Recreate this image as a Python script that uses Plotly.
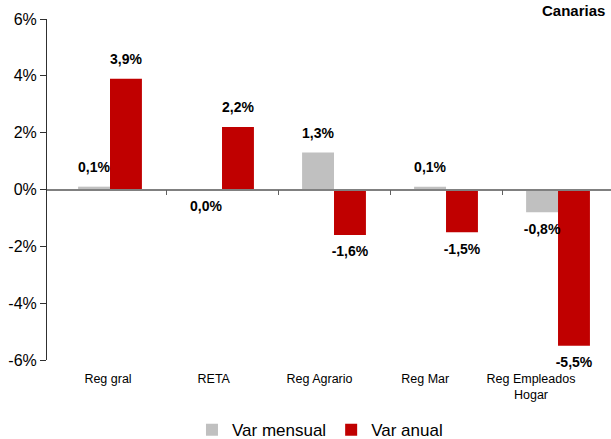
import plotly.graph_objects as go

categories = ["Reg gral", "RETA", "Reg Agrario", "Reg Mar", "Reg Empleados<br>Hogar"]
var_mensual = [0.1, -0.01, 1.3, 0.1, -0.8]
var_anual = [3.9, 2.2, -1.6, -1.5, -5.5]
y_ticks = [-6, -4, -2, 0, 2, 4, 6]
y_ticktext = ["-6%", "-4%", "-2%", "0%", "2%", "4%", "6%"]
title_text = "Canarias"

FONT = "Liberation Sans, Arial, sans-serif"

def fmt(v):
    s = f"{abs(v):.1f}".replace(".", ",") + "%"
    return ("-" + s) if v < 0 and round(abs(v), 1) != 0 else s

def pos(vals):
    return ["top center" if v > 0 else "bottom center" for v in vals]

fig = go.Figure()
fig.add_trace(go.Bar(
    x=categories, y=var_mensual, name="Var mensual",
    marker=dict(color="#C0C0C0", line=dict(width=0)),
))
fig.add_trace(go.Bar(
    x=categories, y=var_anual, name="Var anual",
    marker=dict(color="#C00000", line=dict(width=0)),
))
for vals in (var_mensual, var_anual):
    fig.add_trace(go.Scatter(
        x=categories, y=vals, mode="markers+text",
        marker=dict(size=16, opacity=0),
        text=[fmt(v) for v in vals], textposition=pos(vals),
        textfont=dict(family=FONT, size=14, color="#000000", weight="bold"),
        showlegend=False, hoverinfo="skip", cliponaxis=False,
    ))
# helper invisible trace for the zero-line axis with tick marks
fig.add_trace(go.Scatter(x=[0], y=[0], xaxis="x2", mode="markers",
                         marker=dict(opacity=0), showlegend=False, hoverinfo="skip"))
# helper invisible trace for the category label axis
fig.add_trace(go.Scatter(x=categories, y=var_mensual, xaxis="x3", mode="none",
                         showlegend=False, hoverinfo="skip"))

xr = [-0.5625, 4.473]
fig.update_layout(
    width=611, height=439,
    margin=dict(l=47, r=0, t=19, b=79, autoexpand=False),
    paper_bgcolor="white", plot_bgcolor="white",
    barmode="group", bargap=0.43, bargroupgap=0,
    scattermode="group", scattergap=0.43,
    font=dict(family=FONT, color="#000000"),
    showlegend=True,
    legend=dict(orientation="h", x=0.484, xanchor="center", y=-0.206, yanchor="middle",
                font=dict(family=FONT, size=17, color="#000000"),
                itemwidth=30, traceorder="normal"),
    xaxis=dict(type="category", range=xr, showline=False, ticks="",
               showticklabels=False, showgrid=False, zeroline=False),
    xaxis2=dict(overlaying="x", anchor="free", position=0.5, range=[xr[0], xr[1]],
                showline=True, linecolor="#808080", linewidth=1.5,
                ticks="outside", ticklen=5, tickcolor="#606060",
                tickvals=[0.5, 1.5, 2.5, 3.5], showticklabels=False,
                showgrid=False, zeroline=False),
    xaxis3=dict(type="category", overlaying="x", anchor="y", side="bottom",
                range=[-0.577, 4.757], showline=False, ticks="",
                showgrid=False, zeroline=False, ticklabelstandoff=9,
                tickfont=dict(family=FONT, size=12.5, color="#000000")),
    yaxis=dict(range=[-6, 6], tickvals=y_ticks, ticktext=y_ticktext,
               showline=True, linecolor="#303030", linewidth=1,
               ticks="outside", ticklen=6, tickcolor="#303030",
               showgrid=False, zeroline=False,
               tickfont=dict(family=FONT, size=16, color="#000000")),
    annotations=[dict(text="<b>" + title_text + "</b>", x=1, xref="paper", xanchor="right",
                      xshift=-4, y=1, yref="paper", yanchor="middle", yshift=9,
                      showarrow=False,
                      font=dict(family=FONT, size=15, color="#000000"))],
)

fig.write_html("out.html", config={"displayModeBar": False},
               post_script="document.body.style.margin='0';document.body.style.overflow='hidden';")
